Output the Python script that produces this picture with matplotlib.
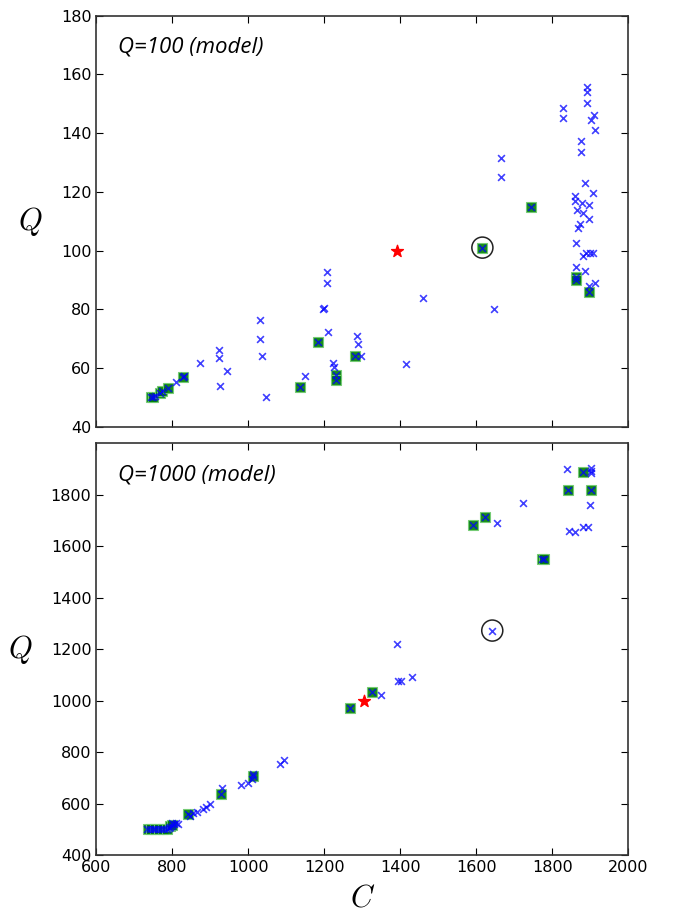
import matplotlib
matplotlib.use("Agg")
import matplotlib.pyplot as plt

# ---- top panel: Q=100 model ----
top_C = [745, 750, 755, 767, 772, 789, 811, 829, 831, 873, 923, 923, 943, 925,
         1031, 1031, 1037, 1047, 1136, 1149, 1184, 1197, 1199, 1206, 1206, 1209,
         1224, 1225, 1230, 1230, 1281, 1296, 1285, 1289, 1415, 1460, 1616, 1647,
         1665, 1665, 1744,
         1827, 1827, 1890, 1890, 1890, 1910, 1901, 1912, 1875, 1876, 1886, 1908,
         1860, 1860, 1878, 1897, 1864, 1882, 1897, 1873, 1867, 1862, 1882, 1889,
         1899, 1908, 1862, 1886, 1862, 1862, 1897, 1912, 1897]
top_Q = [50, 50, 50.3, 51.4, 52, 53.3, 55.3, 56.8, 57.3, 61.6, 66.1, 63.5, 59.1, 54,
         76.4, 69.8, 64, 50, 53.5, 57.4, 68.8, 80, 80.3, 92.8, 89, 72.2,
         61.8, 60.3, 57.6, 56, 64.2, 64.2, 71, 68.2, 61.4, 84, 101, 80.1,
         131.5, 125, 115,
         148.7, 145.3, 155.8, 154.1, 150.4, 146.2, 144.5, 141.1, 137.4, 133.7, 123.1, 119.5,
         118.6, 117, 116.3, 115.5, 113.8, 112.7, 110.7, 109.1, 107.6, 102.7, 98.2, 99.3,
         99.3, 99.3, 94.3, 93.2, 90.9, 90, 88, 88.9, 86]

top_sel_C = [745, 750, 767, 772, 789, 829, 1136, 1184, 1230, 1230, 1281, 1616,
             1744, 1862, 1862, 1897]
top_sel_Q = [50, 50, 51.4, 52, 53.3, 56.8, 53.5, 68.8, 57.6, 56, 64.2, 101,
             115, 90.9, 90, 86]

top_target = (1390, 100)
top_circle = (1616, 101)

# ---- bottom panel: Q=1000 model ----
bot_C = [733, 740, 748, 755, 762, 770, 777, 785, 790, 795, 800, 805, 798, 810, 815,
         842, 847, 855, 864, 880, 889, 899, 928, 931, 981, 1000, 1010, 1013, 1012,
         1084, 1095, 1268, 1325, 1348, 1395, 1402, 1430, 1392, 1590, 1623, 1655,
         1642, 1722, 1774, 1777, 1838, 1840, 1845, 1860, 1880, 1880, 1895, 1901,
         1901, 1901, 1901, 1899]
bot_Q = [500, 500, 500, 500, 500, 500, 501, 502, 505, 510, 515, 520, 526, 524, 520,
         560, 553, 563, 567, 579, 588, 599, 637, 660, 673, 682, 695, 707, 714,
         754, 768, 973, 1035, 1022, 1078, 1078, 1093, 1220, 1680, 1711, 1691,
         1272, 1769, 1549, 1551, 1899, 1816, 1660, 1655, 1887, 1673, 1675, 1902,
         1893, 1885, 1818, 1759]

bot_sel_C = [735, 745, 755, 765, 775, 785, 795, 800, 842, 928, 1013, 1268, 1325,
             1590, 1623, 1774, 1777, 1840, 1880, 1901]
bot_sel_Q = [500, 500, 500, 500, 500, 502, 512, 518, 560, 637, 707, 973, 1035,
             1680, 1711, 1549, 1551, 1816, 1887, 1818]

bot_target = (1305, 1000)
bot_circle = (1642, 1272)

plt.rcParams["font.family"] = "DejaVu Sans"
plt.rcParams["mathtext.fontset"] = "cm"

fig = plt.figure(figsize=(6.73, 9.18), dpi=100)
ax1 = fig.add_axes([0.1431, 0.5352, 0.7905, 0.4477])
ax2 = fig.add_axes([0.1431, 0.0684, 0.7905, 0.4490], sharex=ax1)


def draw_panel(ax, C, Q, selC, selQ, target, circle, label):
    ax.scatter(selC, selQ, marker="s", s=42, facecolor=(0, 0.5, 0),
               edgecolor=(0.45, 0.8, 0.45), linewidth=0.8, alpha=0.9, zorder=2)
    ax.scatter(C, Q, marker="x", s=24, color="blue", linewidth=1.2,
               alpha=0.75, zorder=3)
    ax.scatter([target[0]], [target[1]], marker="*", s=80, color="red",
               edgecolor="red", zorder=4)
    ax.scatter([circle[0]], [circle[1]], marker="o", s=230, facecolor="none",
               edgecolor="#222222", linewidth=1.1, zorder=4)
    ax.text(0.041, 0.91, label, transform=ax.transAxes, fontsize=16,
            family="Open Sans", style="italic", ha="left", va="baseline")
    ax.set_ylabel("$Q$", fontsize=22, rotation=0, labelpad=22, va="center")
    ax.tick_params(direction="in", top=True, right=True, length=5,
                   labelsize=11.5, width=0.8)
    for sp in ax.spines.values():
        sp.set_linewidth(1.2)
        sp.set_color("#333333")


draw_panel(ax1, top_C, top_Q, top_sel_C, top_sel_Q, top_target, top_circle,
           "Q=100 (model)")
draw_panel(ax2, bot_C, bot_Q, bot_sel_C, bot_sel_Q, bot_target, bot_circle,
           "Q=1000 (model)")

ax1.set_xlim(600, 2000)
ax1.set_ylim(40, 180)
ax1.set_yticks(range(40, 181, 20))
ax1.tick_params(labelbottom=False)

ax2.set_ylim(400, 2000)
ax2.set_yticks(range(400, 1801, 200))
ax2.set_xticks(range(600, 2001, 200))
ax2.set_xlabel("$C$", fontsize=22, labelpad=6)

fig.savefig("out.png", dpi=100)
plt.close(fig)
